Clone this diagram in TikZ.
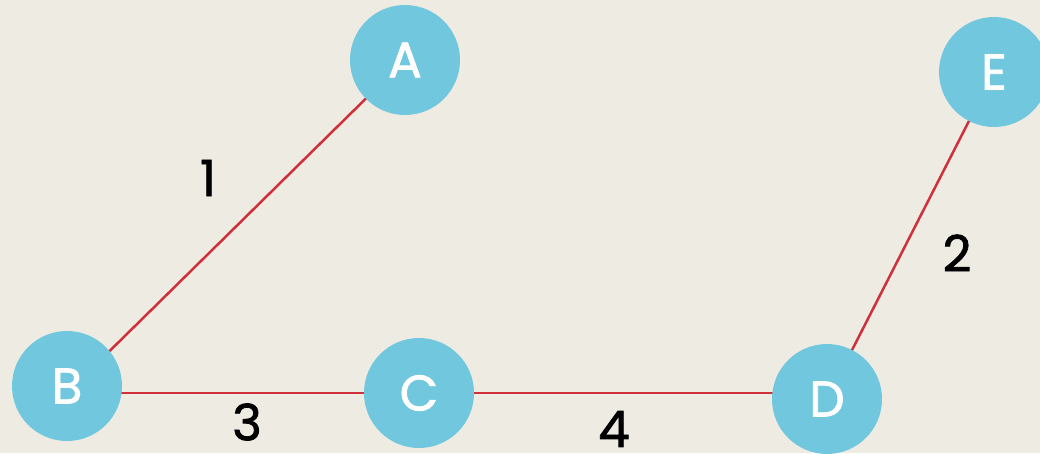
\documentclass[tikz,border=0pt]{standalone}
\usepackage{fontspec}
\setmainfont{Poppins}[FakeBold=1.6,AutoFakeBold=1.6]
\definecolor{bgc}{RGB}{238,235,227}
\definecolor{nodec}{RGB}{113,200,222}
\definecolor{edgec}{RGB}{208,48,58}
\tikzset{
  vertex/.style={circle,fill=nodec,draw=none,minimum size=110pt,inner sep=0pt,text=white,font=\bfseries\fontsize{50}{50}\selectfont},
  edge/.style={draw=edgec,line width=2.5pt},
  weight/.style={text=black,font=\bfseries\fontsize{50}{50}\selectfont,inner sep=0pt}
}
\begin{document}
\begin{tikzpicture}[x=1pt,y=-1pt]
\fill[bgc] (0,0) rectangle (1040,453);
\useasboundingbox (0,0) rectangle (1040,453);
\coordinate (pa) at (405,60);
\coordinate (pb) at (67,393);
\coordinate (pc) at (419,393);
\coordinate (pd) at (827,393);
\coordinate (pe) at (994,72);
\coordinate (pd2) at (827,399);
\draw[edge] (pa) -- (pb);
\draw[edge] (pb) -- (pc);
\draw[edge] (pc) -- (pd);
\draw[edge] (pd2) -- (pe);
\node[vertex] (A) at (405,60) {A};
\node[vertex] (B) at (67,386) {B};
\node[vertex] (C) at (419,393) {C};
\node[vertex] (D) at (827,399) {D};
\node[vertex] (E) at (994,72) {E};
\node[weight] (w1) at (208,178) {1};
\node[weight] (w2) at (957,253) {2};
\node[weight] (w3) at (247,422) {3};
\node[weight] (w4) at (614,429) {4};
\end{tikzpicture}
\end{document}
